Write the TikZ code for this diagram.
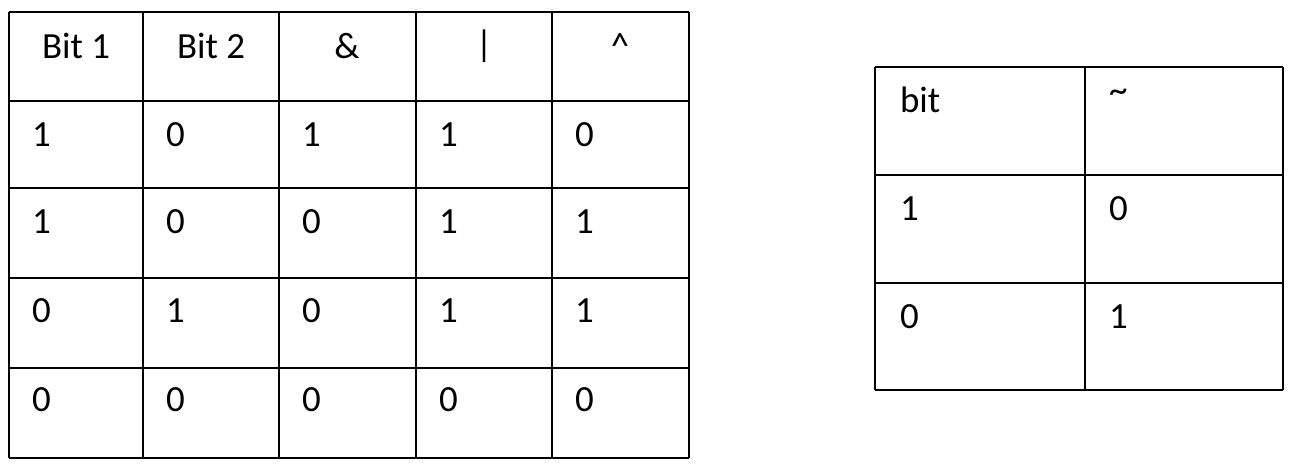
\documentclass[tikz,border=0pt]{standalone}
\usepackage{fontspec}
\setmainfont{Carlito}
\begin{document}
\begin{tikzpicture}[x=0.02cm,y=-0.02cm,line width=1.2pt,
  cell/.style={anchor=west,font=\fontsize{21}{24}\selectfont,inner sep=0pt},
  head/.style={anchor=center,font=\fontsize{21}{24}\selectfont,inner sep=0pt}]
\useasboundingbox (0,0) rectangle (1291,472);
% left table grid
\foreach \y in {12,101,188,278,368,458} \draw (9,\y) -- (689,\y);
\foreach \x in {9,143,279,416,552,689} \draw (\x,12) -- (\x,458);
\node[head] (h1) at (76,46) {Bit 1};
\node[head] (h2) at (211,46) {Bit 2};
\node[head] (h3) at (347,46) {\&};
\node[head] (h4) at (484,46) {|};
\node[head] (h5) at (620,46) {\textasciicircum};
\foreach \r/\y in {1/135,2/222,3/311,4/400}{}
\foreach \a/\b/\c/\d/\e [count=\r] in {1/0/1/1/0,1/0/0/1/1,0/1/0/1/1,0/0/0/0/0}{
  \pgfmathsetmacro\yy{{135,222,311,400}[\r-1]}
  \node[cell] (c\r a) at (31,\yy) {\a};
  \node[cell] (c\r b) at (165,\yy) {\b};
  \node[cell] (c\r c) at (301,\yy) {\c};
  \node[cell] (c\r d) at (438,\yy) {\d};
  \node[cell] (c\r e) at (574,\yy) {\e};
}
% right table
\foreach \y in {67,175,283,390} \draw (875,\y) -- (1283,\y);
\foreach \x in {875,1085,1283} \draw (\x,67) -- (\x,390);
\node[cell] (rb) at (899,100) {bit};
\node[cell] (rt) at (1108,96) {\textasciitilde};
\node[cell] (r1a) at (899,209) {1};
\node[cell] (r1b) at (1108,209) {0};
\node[cell] (r2a) at (899,317) {0};
\node[cell] (r2b) at (1108,317) {1};
\end{tikzpicture}
\end{document}
